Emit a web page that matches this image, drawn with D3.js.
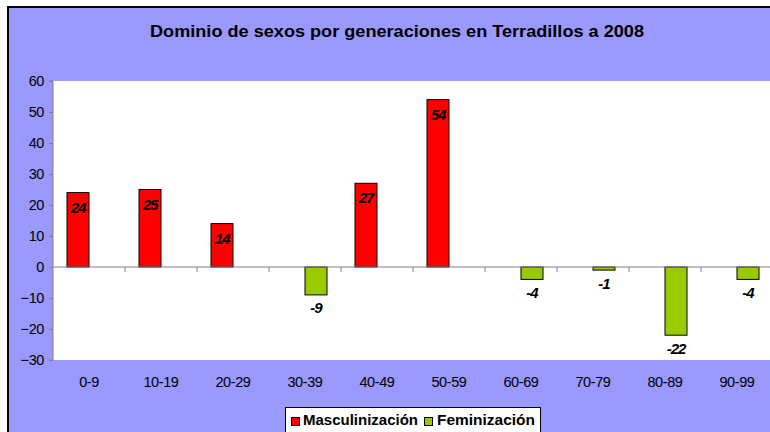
<!DOCTYPE html>
<html><head><meta charset="utf-8">
<script src="https://cdn.jsdelivr.net/npm/d3@7"></script>
<style>body{margin:0;background:#fff}svg{display:block}</style>
</head><body>
<svg id="c" width="770" height="432"></svg>
<script>
const categories = ["0-9","10-19","20-29","30-39","40-49","50-59","60-69","70-79","80-89","90-99"];
const masculinizacion = [24,25,14,null,27,54,null,null,null,null];
const feminizacion = [null,null,null,-9,null,null,-4,-1,-22,-4];
const yTicks = [60,50,40,30,20,10,0,-10,-20,-30];
const seriesNames = ["Masculinización","Feminización"];
const colors = ["#FF0000","#99CC00"];

(function(){
const svg = d3.select("#c");
const font = "'Liberation Sans', Arial, sans-serif";

// chart area
svg.append("rect").attr("x",8).attr("y",7).attr("width",800).attr("height",460)
  .attr("fill","#9999FF").attr("stroke","#000").attr("stroke-width",2);

const pLeft = 53, pTop = 81, plotW = 720, pBottom = 360;
const x = d3.scaleBand().domain(categories).range([pLeft,pLeft+plotW]).paddingInner(0).paddingOuter(0);
const y = d3.scaleLinear().domain([-30,60]).range([pBottom,pTop]);
const inner = d3.scaleBand().domain([0,1]).range([0,x.bandwidth()]).paddingInner(0).paddingOuter(14/22);

svg.append("rect").attr("x",pLeft).attr("y",pTop).attr("width",plotW+20).attr("height",pBottom-pTop).attr("fill","#fff");

// title
svg.append("text").attr("x",397).attr("y",37).attr("text-anchor","middle")
  .attr("font-family",font).attr("font-weight","bold").attr("font-size",16.5)
  .attr("textLength",494).attr("lengthAdjust","spacingAndGlyphs")
  .text("Dominio de sexos por generaciones en Terradillos a 2008");

// y axis
const yAxis = d3.axisLeft(y).tickValues(yTicks).tickSize(4).tickPadding(5).tickFormat(d3.format("d"));
const ga = svg.append("g").attr("transform",`translate(${pLeft},0)`).call(yAxis);
ga.select(".domain").attr("stroke","#808080").attr("d",`M-4,${pTop}H0V${pBottom}H-4`);
ga.selectAll(".tick line").attr("stroke","#808080");
ga.selectAll(".tick text").attr("font-family",font).attr("font-size",14.5).attr("fill","#000")
  .attr("letter-spacing",-0.4).attr("dy","0.34em");

// bars
const data = [masculinizacion, feminizacion];
data.forEach((vals,si)=>{
  const g = svg.append("g");
  const d = categories.map((c,i)=>({c, v: vals[i]})).filter(o=>o.v!==null);
  g.selectAll("rect").data(d).enter().append("rect")
    .attr("x",o=>x(o.c)+inner(si))
    .attr("width",inner.bandwidth())
    .attr("y",o=>y(Math.max(0,o.v)))
    .attr("height",o=>Math.abs(y(o.v)-y(0)))
    .attr("fill",colors[si]).attr("stroke","#000").attr("stroke-width",1);
  g.selectAll("text").data(d).enter().append("text")
    .attr("x",o=>x(o.c)+inner(si)+inner.bandwidth()/2)
    .attr("y",o=> o.v>0 ? y(o.v)+20 : y(o.v)+18.5)
    .attr("text-anchor","middle")
    .attr("font-family",font).attr("font-weight","bold").attr("font-style","italic").attr("font-size",15)
    .attr("letter-spacing",-1)
    .text(o=>o.v);
});

// zero line + x axis ticks
const gx = svg.append("g").attr("transform",`translate(0,${y(0)})`);
gx.append("line").attr("x1",pLeft).attr("x2",pLeft+plotW+20).attr("stroke","#808080");
gx.selectAll(".tk").data(categories).enter().append("line")
  .attr("x1",c=>x(c)+x.bandwidth()).attr("x2",c=>x(c)+x.bandwidth())
  .attr("y1",0).attr("y2",5).attr("stroke","#808080");

const xAxis = d3.axisBottom(x).tickSize(0).tickPadding(0);
const gl = svg.append("g").attr("transform",`translate(0,${pBottom})`).call(xAxis);
gl.select(".domain").remove();
gl.selectAll(".tick text").attr("font-family",font).attr("font-size",14.5).attr("fill","#000")
  .attr("letter-spacing",-0.4).attr("dy","0").attr("y",27);

// legend
const lg = svg.append("g");
lg.append("rect").attr("x",285.5).attr("y",407.5).attr("width",255).attr("height",40)
  .attr("fill","#fff").attr("stroke","#000");
const items = [{x:291, tx:303, w:115}, {x:424, tx:437, w:98}];
seriesNames.forEach((n,i)=>{
  lg.append("rect").attr("x",items[i].x+0.5).attr("y",417.5).attr("width",8).attr("height",8)
    .attr("fill",colors[i]).attr("stroke","#000");
  lg.append("text").attr("x",items[i].tx).attr("y",425)
    .attr("font-family",font).attr("font-weight","bold").attr("font-size",15)
    .attr("textLength",items[i].w).attr("lengthAdjust","spacingAndGlyphs").text(n);
});
})();
</script>
</body></html>
